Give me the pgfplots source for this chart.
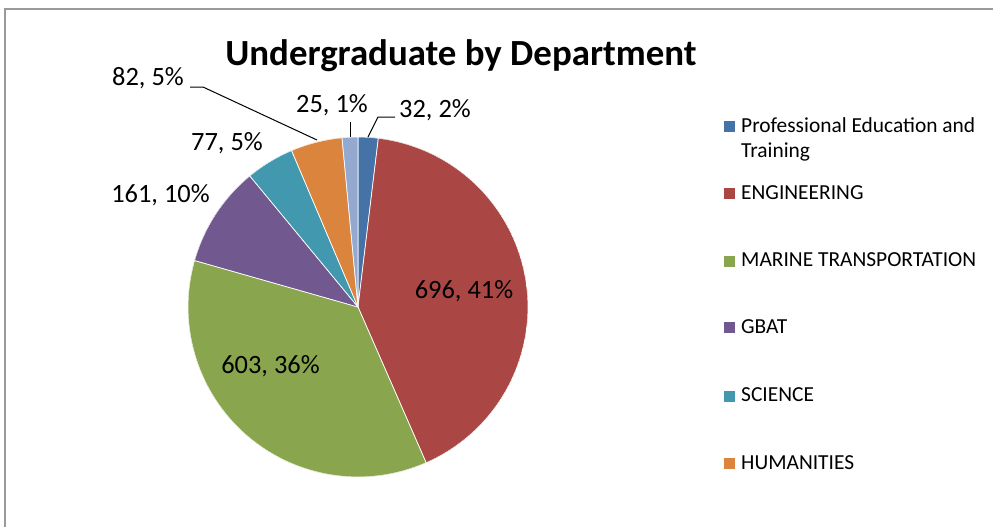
\documentclass[border=0pt]{standalone}
\usepackage{pgfplots}
\pgfplotsset{compat=1.18}
\usepackage{pgfplotstable}
\usepgfplotslibrary{polar}
\usepackage{fontspec}
\setmainfont{Carlito}

\definecolor{cPET}{HTML}{4572A7}
\definecolor{cENG}{HTML}{AA4643}
\definecolor{cMT}{HTML}{89A54E}
\definecolor{cGBAT}{HTML}{71588F}
\definecolor{cSCI}{HTML}{4198AF}
\definecolor{cHUM}{HTML}{DB843D}
\definecolor{cOTH}{HTML}{93A9CF}
\definecolor{frame}{HTML}{9A9A9A}

\pgfplotstableread{
dept value
PET 32
ENG 696
MT 603
GBAT 161
SCI 77
HUM 82
OTH 25
}\piedata

\begin{document}%
\begin{tikzpicture}
% cumulative angles (clockwise from 12 o'clock)
\pgfplotstablegetelem{0}{value}\of\piedata \let\vA\pgfplotsretval
\pgfplotstablegetelem{1}{value}\of\piedata \let\vB\pgfplotsretval
\pgfplotstablegetelem{2}{value}\of\piedata \let\vC\pgfplotsretval
\pgfplotstablegetelem{3}{value}\of\piedata \let\vD\pgfplotsretval
\pgfplotstablegetelem{4}{value}\of\piedata \let\vE\pgfplotsretval
\pgfplotstablegetelem{5}{value}\of\piedata \let\vF\pgfplotsretval
\pgfplotstablegetelem{6}{value}\of\piedata \let\vG\pgfplotsretval
\pgfmathsetmacro\tot{\vA+\vB+\vC+\vD+\vE+\vF+\vG}
\pgfmathsetmacro\aA{90}
\pgfmathsetmacro\aB{\aA-\vA/\tot*360}
\pgfmathsetmacro\aC{\aB-\vB/\tot*360}
\pgfmathsetmacro\aD{\aC-\vC/\tot*360}
\pgfmathsetmacro\aE{\aD-\vD/\tot*360}
\pgfmathsetmacro\aF{\aE-\vE/\tot*360}
\pgfmathsetmacro\aG{\aF-\vF/\tot*360}
\pgfmathsetmacro\aH{\aG-\vG/\tot*360}
\useasboundingbox (0bp,0bp) rectangle (993bp,-527bp);
\fill[white] (0bp,0bp) rectangle (993bp,-527bp);
\begin{scope}[overlay]
\begin{polaraxis}[
  at={(358bp,-307bp)}, anchor=center,
  width=340bp, height=340bp, scale only axis,
  hide axis, ymin=0, ymax=1, xmin=0, xmax=360,
]
\addplot[fill=cPET, draw=white, line width=0.7bp, domain=\aB:\aA, samples=10] {1} -- (axis cs:0,0) -- cycle;
\addplot[fill=cENG, draw=white, line width=0.7bp, domain=\aC:\aB, samples=120] {1} -- (axis cs:0,0) -- cycle;
\addplot[fill=cMT, draw=white, line width=0.7bp, domain=\aD:\aC, samples=110] {1} -- (axis cs:0,0) -- cycle;
\addplot[fill=cGBAT, draw=white, line width=0.7bp, domain=\aE:\aD, samples=30] {1} -- (axis cs:0,0) -- cycle;
\addplot[fill=cSCI, draw=white, line width=0.7bp, domain=\aF:\aE, samples=16] {1} -- (axis cs:0,0) -- cycle;
\addplot[fill=cHUM, draw=white, line width=0.7bp, domain=\aG:\aF, samples=16] {1} -- (axis cs:0,0) -- cycle;
\addplot[fill=cOTH, draw=white, line width=0.7bp, domain=\aH:\aG, samples=8] {1} -- (axis cs:0,0) -- cycle;
\end{polaraxis}
\end{scope}
\begin{scope}[x=1bp,y=-1bp]
% frame (left and top edges visible)
\draw[frame, line width=1.6bp] (5,527) -- (5,9) -- (993,9);
% title
\node[anchor=base, inner sep=0pt, font=\fontsize{37}{42}\selectfont\bfseries] at (461,65) {Undergraduate by Department};
% data labels
\def\lf{\fontsize{26.5}{30}\selectfont}
\node[anchor=base, inner sep=0pt, font=\lf] at (148,85) {82, 5\%};
\node[anchor=base, inner sep=0pt, font=\lf] at (332,112) {25, 1\%};
\node[anchor=base, inner sep=0pt, font=\lf] at (435,117) {32, 2\%};
\node[anchor=base, inner sep=0pt, font=\lf] at (227,150) {77, 5\%};
\node[anchor=base, inner sep=0pt, font=\lf] at (160.5,202) {161, 10\%};
\node[anchor=base, inner sep=0pt, font=\lf] at (464,298) {696, 41\%};
\node[anchor=base, inner sep=0pt, font=\lf] at (270.5,373) {603, 36\%};
% leader lines
\draw[black, line width=1bp] (190,87) -- (203,87) -- (317,140);
\draw[black, line width=1bp] (350,122) -- (350,137);
\draw[black, line width=1bp] (395,117) -- (378,117) -- (368,137);
% legend
\def\gf{\fontsize{21.5}{24}\selectfont}
\fill[cPET]  (724,120.5) rectangle (735,131.5);
\fill[cENG]  (724,187.5) rectangle (735,198.5);
\fill[cMT]   (724,255.5) rectangle (735,266.5);
\fill[cGBAT] (724,322) rectangle (735,333);
\fill[cSCI]  (724,390.5) rectangle (735,401.5);
\fill[cHUM]  (724,458) rectangle (735,469);
\node[anchor=base west, inner sep=0pt, font=\gf] at (741,132) {Professional Education and};
\node[anchor=base west, inner sep=0pt, font=\gf] at (741,157) {Training};
\node[anchor=base west, inner sep=0pt, font=\gf] at (741,199) {ENGINEERING};
\node[anchor=base west, inner sep=0pt, font=\gf] at (741,266.5) {MARINE TRANSPORTATION};
\node[anchor=base west, inner sep=0pt, font=\gf] at (741,333) {GBAT};
\node[anchor=base west, inner sep=0pt, font=\gf] at (741,401.5) {SCIENCE};
\node[anchor=base west, inner sep=0pt, font=\gf] at (741,469) {HUMANITIES};
\end{scope}
\end{tikzpicture}%
\end{document}
